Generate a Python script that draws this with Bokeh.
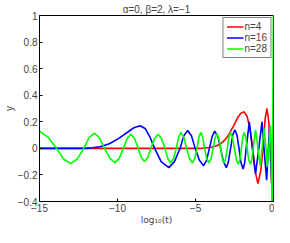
from bokeh.plotting import figure
from bokeh.models import FixedTicker, Legend, LegendItem, Range1d
from bokeh.embed import file_html
from bokeh.resources import INLINE

title_text = "α=0, β=2, λ=−1"
x_label = "log₁₀(t)"
y_label = "y"
x_ticks = [-15, -10, -5, 0]
x_tick_labels = ["−15", "−10", "−5", "0"]
y_ticks = [-0.4, -0.2, 0, 0.2, 0.4, 0.6, 0.8, 1]
y_tick_labels = ["−0.4", "−0.2", "0", "0.2", "0.4", "0.6", "0.8", "1"]
series_names = ["n=4", "n=16", "n=28"]
series_colors = ["#ff0000", "#0000ff", "#00ff00"]

red_x = [-15.0, -5.08, -4.48, -3.99, -3.63, -3.27, -2.96, -2.56, -2.3, -2.09, -1.88, -1.69,
         -1.51, -1.33, -1.18, -1.0, -0.82, -0.67, -0.54, -0.42, -0.3, -0.18, -0.06, 0.0]
red_y = [0, 0, 0.002, 0.008, 0.02, 0.045, 0.085, 0.17, 0.23, 0.265, 0.275, 0.24,
         0.15, 0, -0.17, -0.265, -0.17, 0, 0.22, 0.3, 0.2, -0.1, -0.4, -0.6]

blue_x = [-15.0, -13.55, -12.04, -11.61, -11.13, -10.52, -9.92, -9.31, -8.95, -8.55,
          -8.23, -7.92, -7.62, -7.2, -6.71, -6.35, -5.99, -5.75, -5.5, -5.26,
          -5.02, -4.75, -4.48, -4.29, -4.11, -3.93, -3.77, -3.57, -3.39, -3.21,
          -3.02, -2.89, -2.75, -2.61, -2.48, -2.34, -2.21, -2.08, -1.95, -1.85,
          -1.75, -1.55, -1.36, -1.15, -0.94, -0.74, -0.61, -0.44, -0.33, -0.24,
          -0.18, -0.12, 0.0]
blue_y = [0, 0, 0, 0.004, 0.012, 0.035, 0.075, 0.125, 0.155, 0.17,
          0.15, 0.085, 0, -0.1, -0.145, -0.1, 0, 0.095, 0.135, 0.095,
          0, -0.09, -0.13, -0.09, 0, 0.09, 0.13, 0.09, 0, -0.1,
          -0.145, -0.1, 0, 0.1, 0.14, 0.1, 0, -0.11, -0.155, -0.11,
          0, 0.2, 0, -0.19, 0, 0.2, 0, -0.24, 0, 0.17,
          0, -0.26, 0.3]

green_x = [-15.0, -14.46, -13.91, -13.46, -13.0, -12.58, -12.16, -11.83, -11.49, -11.16,
           -10.83, -10.49, -10.16, -9.89, -9.62, -9.38, -9.15, -8.91, -8.67, -8.47,
           -8.27, -8.06, -7.86, -7.62, -7.4, -7.18, -6.96, -6.77, -6.59, -6.41,
           -6.23, -6.08, -5.93, -5.75, -5.57, -5.38, -5.2, -5.05, -4.9, -4.78,
           -4.66, -4.54, -4.42, -4.28, -4.14, -4.0, -3.87, -3.75, -3.63, -3.51,
           -3.39, -3.28, -3.16, -3.07, -2.96, -2.86, -2.76, -2.64, -2.51, -2.38,
           -2.26, -2.15, -2.06, -1.97, -1.88, -1.78, -1.69, -1.59, -1.48, -1.39,
           -1.3, -1.15, -1.0, -0.85, -0.73, -0.61, -0.48, -0.39, -0.3, -0.21,
           -0.15, -0.09, 0.0]
green_y = [0.13, 0.085, 0.0, -0.08, -0.115, -0.08, 0.0, 0.08, 0.115, 0.08,
           0.0, -0.075, -0.107, -0.075, 0.0, 0.075, 0.107, 0.075, 0.0, -0.07,
           -0.098, -0.07, 0.0, 0.075, 0.107, 0.075, 0.0, -0.078, -0.11, -0.078,
           0.0, 0.085, 0.12, 0.085, 0.0, -0.078, -0.11, -0.078, 0.0, 0.085,
           0.12, 0.085, 0.0, -0.078, -0.11, -0.078, 0.0, 0.078, 0.11, 0.078,
           0.0, -0.078, -0.11, -0.078, 0.0, 0.085, 0.12, 0.085, 0.0, -0.085,
           -0.12, -0.085, 0.0, 0.085, 0.12, 0.085, 0.0, -0.085, -0.12, -0.085,
           0.0, 0.14, 0.0, -0.13, 0.0, 0.15, 0.0, -0.14, 0.0, 0.17,
           0.0, -0.45, 1.05]

FONT = "Liberation Sans"

p = figure(width=274, height=227, output_backend="svg", toolbar_location=None,
           x_range=Range1d(-15, 0), y_range=Range1d(-0.4, 1),
           min_border_left=0, min_border_right=1, min_border_top=12, min_border_bottom=0,
           background_fill_color="white", border_fill_color="white")
p.outline_line_color = "black"
p.outline_line_width = 1
p.xgrid.visible = False
p.ygrid.visible = False

p.title.text = title_text
p.title.align = "center"
p.title.text_font = FONT
p.title.text_font_size = "10px"
p.title.text_font_style = "normal"
p.title.text_line_height = 1.0
p.title.standoff = 2
p.title.offset = 0

p.xaxis.ticker = FixedTicker(ticks=x_ticks)
p.yaxis.ticker = FixedTicker(ticks=y_ticks)
p.xaxis.major_label_overrides = dict(zip(x_ticks, x_tick_labels))
p.yaxis.major_label_overrides = dict(zip(y_ticks, y_tick_labels))
p.xaxis.axis_label = x_label
p.yaxis.axis_label = y_label

for ax in (p.xaxis[0], p.yaxis[0]):
    ax.axis_line_color = "black"
    ax.major_tick_line_color = "black"
    ax.major_tick_in = 3
    ax.major_tick_out = 0
    ax.minor_tick_line_color = None
    ax.major_label_text_font = FONT
    ax.major_label_text_font_size = "10px"
    ax.major_label_text_line_height = 1.0
    ax.major_label_standoff = 2
    ax.axis_label_text_font_size = "10px"
    ax.axis_label_text_font_style = "normal"
    ax.axis_label_text_line_height = 1.0
    ax.axis_label_standoff = 0
p.xaxis[0].axis_label_text_font = "DejaVu Sans"
p.xaxis[0].axis_label_text_font_size = "9px"
p.yaxis[0].axis_label_text_font = FONT

items = []
for name, color, xs, ys in zip(series_names, series_colors,
                               [red_x, blue_x, green_x], [red_y, blue_y, green_y]):
    r = p.line(xs, ys, line_color=color, line_width=1.6)
    items.append(LegendItem(label=name, renderers=[r]))

legend = Legend(items=items, location="top_right")
legend.label_text_font = FONT
legend.label_text_font_size = "10px"
legend.label_height = 11
legend.glyph_height = 11
legend.glyph_width = 17
legend.label_standoff = 1
legend.spacing = 0
legend.padding = 3
legend.margin = 2
legend.border_line_color = "black"
legend.border_line_width = 1
legend.background_fill_alpha = 1
p.add_layout(legend)

open("out.html", "w").write(file_html(p, INLINE))
